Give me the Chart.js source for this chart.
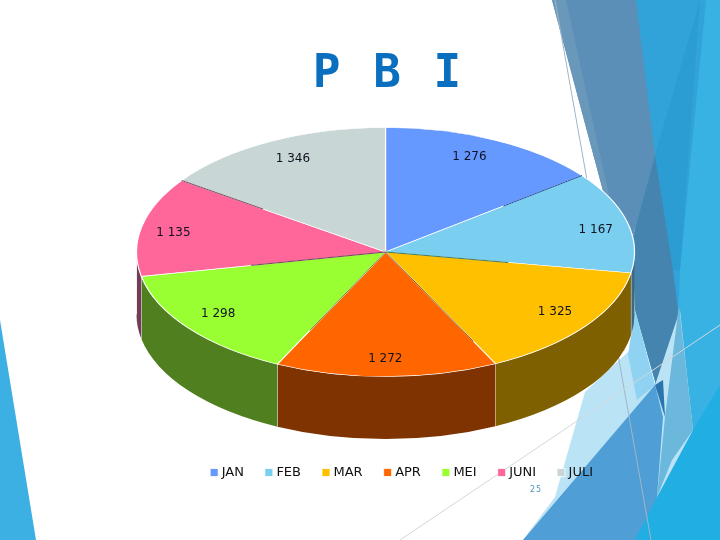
<!DOCTYPE html>
<html>
<head>
<meta charset="utf-8">
<title>PBI</title>
<script src="https://cdn.jsdelivr.net/npm/chart.js@4"></script>
<style>
    html, body { margin: 0; padding: 0; background: #fff; }
    #slide { position: relative; width: 720px; height: 540px; overflow: hidden; }
    #decor, #chart { position: absolute; left: 0; top: 0; }
    #pageNo { position: absolute; left: 530px; top: 485px; font: 8px "DejaVu Sans", sans-serif; letter-spacing: 1px; color: #4a9ab5; }
</style>
</head>
<body>
<div id="slide">
    <!-- slide theme shapes behind the chart -->
    <svg id="decor" width="720" height="540">
        <polygon points="0,320 36,540 0,540" fill="#3cb0e2"/>
        <polygon points="636,0 720,0 720,400 692,432 665,417 635,310" fill="#38b1e3"/>
        <polygon points="636,0 706,0 680,270 678,320 665,417 660,300" fill="#31a3d8"/>
        <polygon points="700,0 680,270 672,270 655,155" fill="#2b9dd3"/>
        <polygon points="552,0 636,0 655,155 632,240 603,191" fill="#5b8fb7"/>
        <polygon points="552,0 566,0 610,200 603,191" fill="#6a98bb"/>
        <polygon points="655,155 673,270 678,310 665,417 635,310 632,240" fill="#4684b0"/>
        <polygon points="585,392 630,350 633,310 655,385 680,310 693,430 657,497 647,540 523,540 555,497" fill="#bbe3f6"/>
        <polygon points="635,310 655,385 637,400 628,355" fill="#8fd2f1"/>
        <polygon points="679,305 693,430 672,460 657,497 665,417" fill="#6cb8dd"/>
        <polygon points="523,540 655,385 663,417 657,497 647,540" fill="#4f9fd6"/>
        <polygon points="655,385 663,380 665,417" fill="#2a75ae"/>
        <polygon points="720,385 720,540 635,540 657,497 693,430" fill="#20aee3"/>
        <line x1="555" y1="0" x2="651" y2="540" stroke="#9fb6c6" stroke-width="1"/>
        <line x1="400" y1="540" x2="720" y2="325" stroke="#cfd8dc" stroke-width="1"/>
    </svg>
    <canvas id="chart" width="720" height="540"></canvas>
    <div id="pageNo">25</div>
</div>
<script>
const months = ["JAN", "FEB", "MAR", "APR", "MEI", "JUNI", "JULI"];
const totals = [1276, 1167, 1325, 1272, 1298, 1135, 1346];
const topColors = ["#6699ff", "#7acef0", "#ffc000", "#ff6600", "#99ff33", "#ff6699", "#c9d6d6"];
const wallColors = ["#33507f", "#3d6a7e", "#7f6000", "#7f3300", "#4f7f1e", "#703c58", "#646b6b"];
const chartTitle = "P B I";

// the doughnut controller only makes circles, so the pie is squashed on the context
const PIE_X = 385.5, PIE_Y = 252, PIE_RX = 249, PIE_RY = 124.5, PIE_DEPTH = 62.5;

// hand tweaks so the value labels sit where they do on the slide
const labelNudge = [[-9, 0], [5, 4], [0, -3], [-1, 1], [0, -3], [-5, 3], [5, 1]];
// dark part of the seam after each slice: from, to (share of radius), colour
const seams = [[0.6, 1, "#1f4e9e"], [0, 0.5, "#3f7a5a"], [0, 0.8, "#8a5a10"], [0, 0.7, "#6b8a20"], [0, 0.55, "#70405a"], [0.6, 1, "#7a4a60"]];

function fmt(v) {
    return String(v).replace(/\B(?=(\d{3})+$)/g, " ");
}

const pie3d = {
    id: "pie3d",
    beforeDraw(chart) {
        // only the title has spaces at this point of the draw
        chart.ctx.wordSpacing = "5px";
    },
    beforeDatasetsDraw(chart) {
        const ctx = chart.ctx;
        ctx.wordSpacing = "0px";
        const arcs = chart.getDatasetMeta(0).data;

        // side wall, only the front half of the rim shows
        arcs.forEach((arc, i) => {
            const from = Math.max(arc.startAngle, 0);
            const to = Math.min(arc.endAngle, Math.PI);
            if (to <= from) return;
            ctx.beginPath();
            ctx.ellipse(PIE_X, PIE_Y, PIE_RX, PIE_RY, 0, from, to);
            ctx.ellipse(PIE_X, PIE_Y + PIE_DEPTH, PIE_RX, PIE_RY, 0, to, from, true);
            ctx.closePath();
            ctx.fillStyle = wallColors[i];
            ctx.fill();
            ctx.strokeStyle = "rgba(255,255,255,0.85)";
            ctx.lineWidth = 1;
            ctx.beginPath();
            const x = PIE_X + PIE_RX * Math.cos(to), y = PIE_Y + PIE_RY * Math.sin(to);
            ctx.moveTo(x, y);
            ctx.lineTo(x, y + PIE_DEPTH);
            ctx.stroke();
        });

        const r = arcs[0].outerRadius;
        ctx.save();
        ctx.translate(PIE_X, PIE_Y);
        ctx.scale(PIE_RX / r, PIE_RY / r);
        ctx.translate(-arcs[0].x, -arcs[0].y);
    },
    afterDatasetsDraw(chart) {
        const ctx = chart.ctx;
        ctx.restore();
        const arcs = chart.getDatasetMeta(0).data;

        seams.forEach((s, i) => {
            const a = arcs[i].endAngle;
            ctx.beginPath();
            ctx.moveTo(PIE_X + PIE_RX * s[0] * Math.cos(a), PIE_Y + PIE_RY * s[0] * Math.sin(a));
            ctx.lineTo(PIE_X + PIE_RX * s[1] * Math.cos(a), PIE_Y + PIE_RY * s[1] * Math.sin(a));
            ctx.strokeStyle = s[2];
            ctx.lineWidth = 1;
            ctx.stroke();
        });

        ctx.font = '12px "DejaVu Sans"';
        ctx.fillStyle = "#111122";
        ctx.textAlign = "center";
        ctx.textBaseline = "middle";
        arcs.forEach((arc, i) => {
            const mid = (arc.startAngle + arc.endAngle) / 2;
            ctx.fillText(fmt(totals[i]),
                PIE_X + PIE_RX * 0.85 * Math.cos(mid) + labelNudge[i][0],
                PIE_Y + PIE_RY * 0.85 * Math.sin(mid) + labelNudge[i][1]);
        });
    }
};

new Chart(document.getElementById("chart"), {
    type: "pie",
    data: {
        labels: months,
        datasets: [{
            data: totals,
            backgroundColor: topColors,
            borderColor: "#ffffff",
            borderWidth: 0.8
        }]
    },
    options: {
        responsive: false,
        animation: false,
        events: [],
        layout: { padding: { left: 157, right: 103, top: 0, bottom: 51 } },
        plugins: {
            tooltip: { enabled: false },
            title: {
                display: true,
                text: chartTitle,
                color: "#0b6fbf",
                font: { family: '"DejaVu Sans Mono"', size: 46, weight: "bold" },
                padding: { top: 47, bottom: 10 }
            },
            legend: {
                position: "bottom",
                align: "end",
                labels: {
                    usePointStyle: true,
                    pointStyle: "rect",
                    boxWidth: 2,
                    boxHeight: 8,
                    padding: 24,
                    color: "#111111",
                    font: { family: '"DejaVu Sans"', size: 13 }
                }
            }
        }
    },
    plugins: [pie3d]
});
</script>
</body>
</html>
